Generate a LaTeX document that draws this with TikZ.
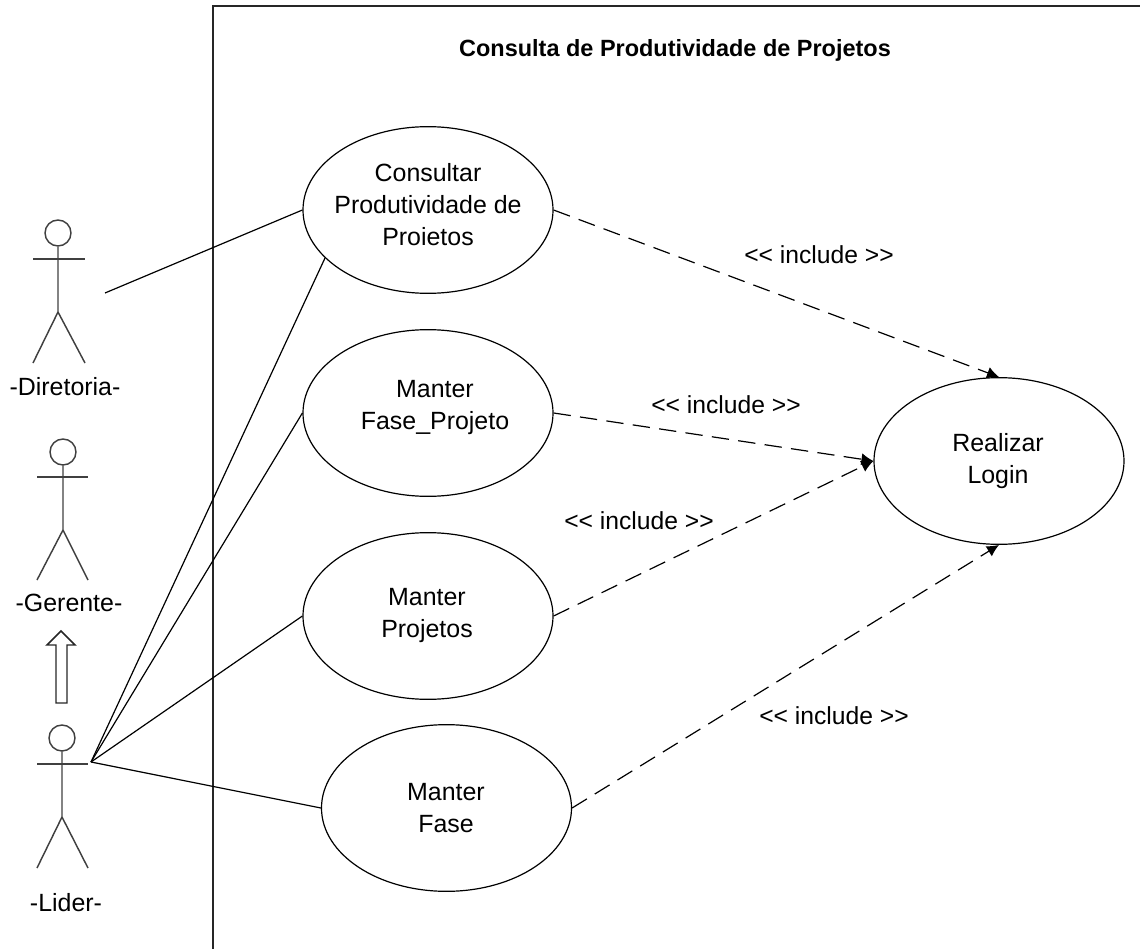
\documentclass[tikz,border=0pt]{standalone}
\usepackage{fontspec}
\setmainfont{Liberation Sans}
\usetikzlibrary{shapes.geometric,arrows.meta}

\begin{document}
\begin{tikzpicture}[x=0.75pt,y=-0.75pt,
    usecase/.style={draw,line width=0.9pt,ellipse,inner sep=0pt,minimum width=187.5pt,minimum height=125pt},
    casetext/.style={align=center,font=\fontsize{18.7}{24}\selectfont},
    actorlabel/.style={font=\fontsize{18.7}{22}\selectfont},
    incl/.style={font=\fontsize{18.5}{22}\selectfont},
    stream/.style={line width=0.9pt},
    dep/.style={line width=0.9pt,dash pattern=on 13pt off 7pt,-{Latex[length=9pt,width=9pt]}},
    limb/.style={line width=1.1pt,black!75}]
    \useasboundingbox (0,0) rectangle (1140,949);
    %system
    \draw [line width=1.2pt,black!85] (1140,6) -- (213,6) -- (213,949);
    \node (title) at (675,50) [font=\fontsize{17.6}{22}\selectfont\bfseries] {Consulta de Produtividade de Projetos};
    %use cases
    \node (consultar) at (428,210) [usecase] {};
    \node (consultar text) at (428,205) [casetext] {Consultar\\Produtividade de\\Proietos};
    \node (fase projeto) at (428,413) [usecase] {};
    \node (fase projeto text) at (435,408) [casetext] {Manter\\Fase\_Projeto};
    \node (projetos) at (428,616) [usecase] {};
    \node (projetos text) at (427,616) [casetext] {Manter\\Projetos};
    \node (fase) at (446.5,808) [usecase] {};
    \node (fase text) at (446,808) [casetext] {Manter\\Fase};
    \node (login) at (999,461) [usecase] {};
    \node (login text) at (998,461) [casetext] {Realizar\\Login};
    %diretoria
    \node (diretoria head) at (58,233) [draw,circle,limb,minimum size=19.5pt,inner sep=0pt] {};
    \draw [limb] (diretoria head.south) -- (58,312) -- (33,363);
    \draw [limb] (58,312) -- (85,363);
    \draw [limb] (33,259) -- (85,259);
    \node (diretoria) at (65,387) [actorlabel] {-Diretoria-};
    %gerente
    \node (gerente head) at (63,452) [draw,circle,limb,minimum size=19.5pt,inner sep=0pt] {};
    \draw [limb] (gerente head.south) -- (63,530) -- (37,580);
    \draw [limb] (63,530) -- (88,580);
    \draw [limb] (37,477) -- (88,477);
    \node (gerente) at (69,603) [actorlabel] {-Gerente-};
    %lider
    \node (lider head) at (62,738) [draw,circle,limb,minimum size=19.5pt,inner sep=0pt] {};
    \draw [limb] (lider head.south) -- (62,817) -- (37,868);
    \draw [limb] (62,817) -- (88,868);
    \draw [limb] (37,764) -- (88,764);
    \node (lider) at (66,903) [actorlabel] {-Lider-};
    %generalization
    \draw [line width=1.1pt,black!85] (56,703) -- (67,703) -- (67,645) -- (75,645) -- (61,631) -- (47,645) -- (56,645) -- cycle;
    %associations
    \coordinate (diretoria end) at (105,293);
    \coordinate (lider end) at (91,762);
    \draw [stream] (diretoria end) -- (consultar.west);
    \draw [stream] (lider end) -- (consultar.205);
    \draw [stream] (lider end) -- (fase projeto.west);
    \draw [stream] (lider end) -- (projetos.west);
    \draw [stream] (lider end) -- (fase.west);
    %includes
    \draw [dep] (consultar.east) -- (login.north);
    \draw [dep] (fase projeto.east) -- (login.west);
    \draw [dep] (projetos.east) -- (login.west);
    \draw [dep] (fase.east) -- (login.south);
    \node (include a) at (819,255) [incl] {<{}< include >{}>};
    \node (include b) at (726,405) [incl] {<{}< include >{}>};
    \node (include c) at (639,521) [incl] {<{}< include >{}>};
    \node (include d) at (834,716) [incl] {<{}< include >{}>};
\end{tikzpicture}
\end{document}
